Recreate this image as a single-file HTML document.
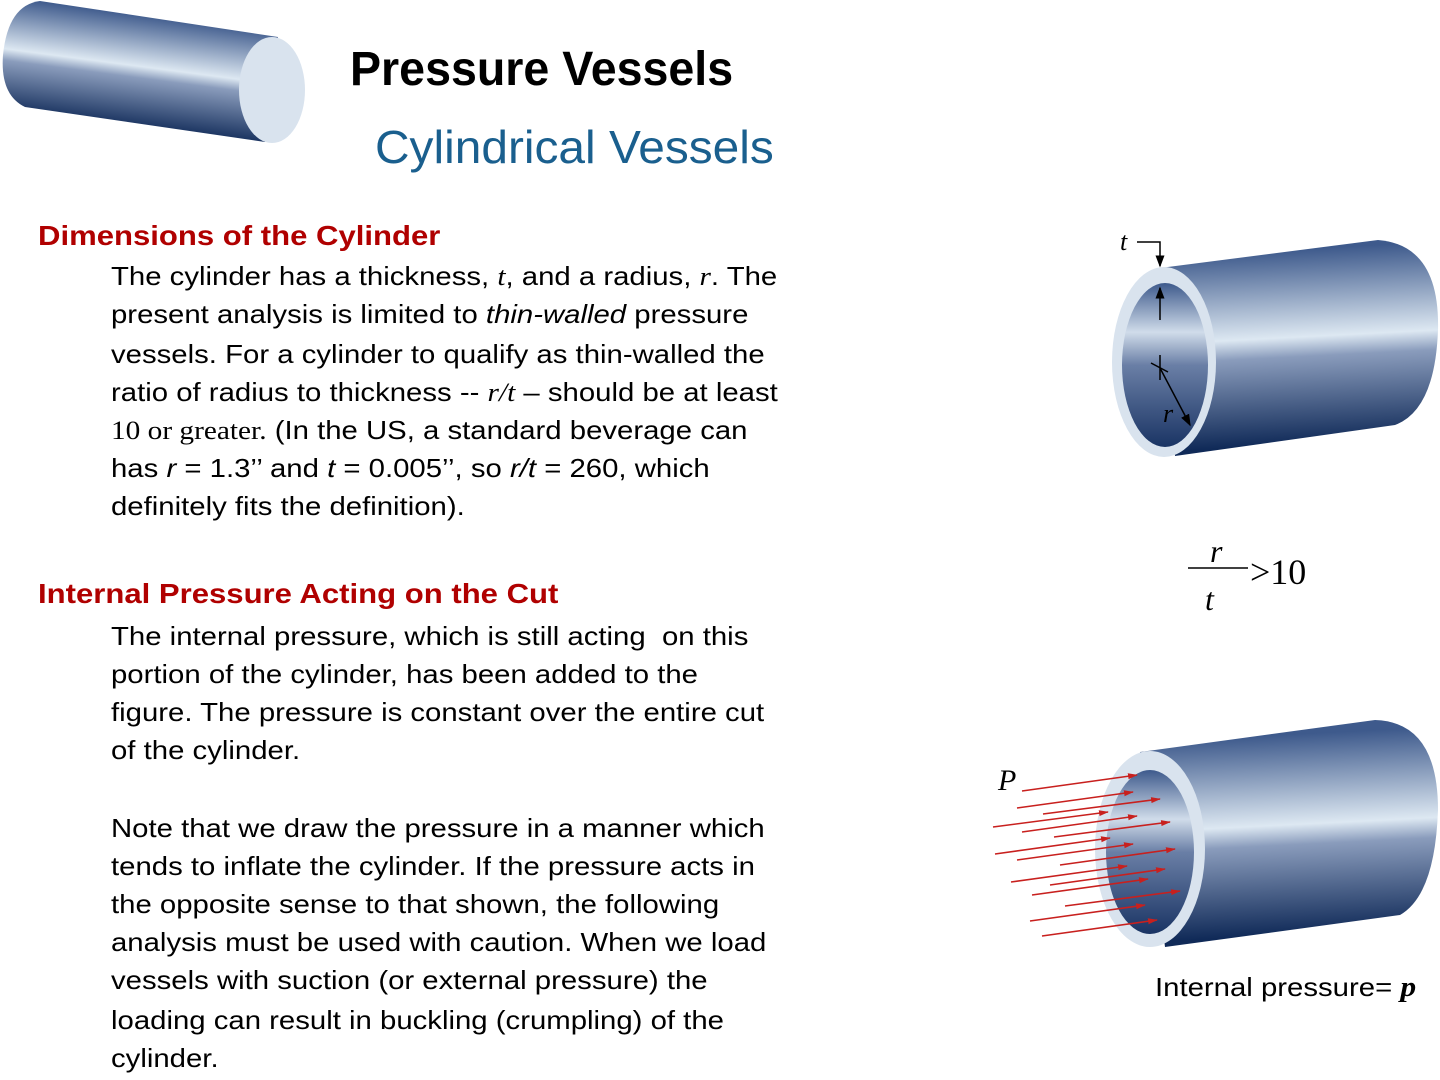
<!DOCTYPE html>
<html><head><meta charset="utf-8"><style>
body{margin:0;width:1440px;height:1080px;background:#fff;position:relative;overflow:hidden;font-family:"Liberation Sans",sans-serif}
.l{position:absolute;left:111px;font-size:26px;white-space:nowrap;transform:scaleX(1.128);transform-origin:left top;color:#000;line-height:30px}
.h{position:absolute;left:38px;font-size:28px;font-weight:bold;color:#b00000;white-space:nowrap;transform:scaleX(1.11);transform-origin:left top}
.s{font-family:"Liberation Serif",serif;font-style:italic}
.sr{font-family:"Liberation Serif",serif}
</style></head><body>
<svg width="1440" height="1080" style="position:absolute;left:0;top:0">
<defs>
<linearGradient id="g1" gradientUnits="userSpaceOnUse" x1="150" y1="15" x2="135" y2="130">
<stop offset="0" stop-color="#3e5a8c"/><stop offset="0.45" stop-color="#dde8f2"/><stop offset="0.55" stop-color="#8a9cbc"/><stop offset="1" stop-color="#102a58"/></linearGradient>
<linearGradient id="g2" gradientUnits="userSpaceOnUse" x1="1280" y1="250" x2="1290" y2="445">
<stop offset="0" stop-color="#3e5a8c"/><stop offset="0.45" stop-color="#dde8f2"/><stop offset="0.55" stop-color="#8a9cbc"/><stop offset="1" stop-color="#102a58"/></linearGradient>
<linearGradient id="g3" gradientUnits="userSpaceOnUse" x1="1280" y1="735" x2="1290" y2="935">
<stop offset="0" stop-color="#3e5a8c"/><stop offset="0.45" stop-color="#dde8f2"/><stop offset="0.55" stop-color="#8a9cbc"/><stop offset="1" stop-color="#102a58"/></linearGradient>
<linearGradient id="gi" x1="0" y1="0" x2="0" y2="1">
<stop offset="0" stop-color="#3e5a8c"/><stop offset="0.3" stop-color="#d0dcea"/><stop offset="0.5" stop-color="#6a7fa6"/><stop offset="1" stop-color="#1a3464"/></linearGradient>
<marker id="ab" markerWidth="8" markerHeight="8" refX="7" refY="4" orient="auto"><path d="M0,1 L8,4 L0,7Z" fill="#000"/></marker>
<marker id="ar" markerWidth="10" markerHeight="8" refX="9" refY="4" orient="auto" markerUnits="userSpaceOnUse"><path d="M0,1 L18,4 L0,7Z" fill="#c8201e" transform="scale(0.55,1)"/></marker>
</defs>
<path d="M40,1 L278,37 L265,142 L25,107 Q0,95 3,55 Q8,5 40,1Z" fill="url(#g1)"/>
<ellipse cx="272" cy="90" rx="33" ry="53" fill="#d9e3ee"/>
<path d="M1160,268 L1378,240 Q1440,245 1438,330 Q1435,410 1395,425 L1175,456Z" fill="url(#g2)"/>
<ellipse cx="1164" cy="362" rx="52" ry="95" fill="#d9e3ee"/>
<ellipse cx="1165" cy="365" rx="43" ry="82" fill="url(#gi)"/>
<path d="M1137,242 L1160,242 L1160,266" fill="none" stroke="#000" stroke-width="1.5" marker-end="url(#ab)"/>
<line x1="1160" y1="320" x2="1160" y2="288" stroke="#000" stroke-width="1.5" marker-end="url(#ab)"/>
<line x1="1160" y1="355" x2="1160" y2="380" stroke="#000" stroke-width="1.5"/>
<line x1="1151" y1="363" x2="1168" y2="372" stroke="#000" stroke-width="1.5"/>
<line x1="1160" y1="368" x2="1190" y2="425" stroke="#000" stroke-width="1.5" marker-end="url(#ab)"/>
<text x="1120" y="250" font-family="Liberation Serif" font-style="italic" font-size="26">t</text>
<text x="1163" y="422" font-family="Liberation Serif" font-style="italic" font-size="26">r</text>
<path d="M1140,752 L1375,720 Q1438,722 1438,810 Q1435,895 1400,915 L1165,947Z" fill="url(#g3)"/>
<ellipse cx="1150" cy="849" rx="55" ry="98" fill="#d9e3ee"/>
<ellipse cx="1150" cy="852" rx="44" ry="82" fill="url(#gi)"/>
<g stroke="#c8201e" stroke-width="1.6" marker-end="url(#ar)">
<line x1="1022" y1="791" x2="1137" y2="775"/>
<line x1="1017" y1="808" x2="1133" y2="792"/>
<line x1="1043" y1="814" x2="1160" y2="799"/>
<line x1="993" y1="827" x2="1108" y2="812"/>
<line x1="1022" y1="832" x2="1137" y2="816"/>
<line x1="1054" y1="837" x2="1170" y2="822"/>
<line x1="995" y1="854" x2="1110" y2="838"/>
<line x1="1017" y1="860" x2="1133" y2="844"/>
<line x1="1060" y1="865" x2="1175" y2="849"/>
<line x1="1011" y1="882" x2="1127" y2="866"/>
<line x1="1050" y1="885" x2="1165" y2="869"/>
<line x1="1032" y1="895" x2="1148" y2="879"/>
<line x1="1065" y1="906" x2="1180" y2="891"/>
<line x1="1030" y1="921" x2="1145" y2="905"/>
<line x1="1042" y1="936" x2="1157" y2="920"/>
</g>
<text x="998" y="790" font-family="Liberation Serif" font-style="italic" font-size="30">P</text>
<line x1="1188" y1="568" x2="1248" y2="568" stroke="#000" stroke-width="1.5"/>
<text x="1210" y="562" font-family="Liberation Serif" font-style="italic" font-size="32">r</text>
<text x="1205" y="610" font-family="Liberation Serif" font-style="italic" font-size="32">t</text>
<text x="1250" y="584" font-family="Liberation Serif" font-size="36">&gt;10</text>
</svg>
<div style="position:absolute;left:350px;top:42px;font-size:48px;font-weight:bold;white-space:nowrap;transform:scaleX(0.97);transform-origin:left top">Pressure Vessels</div>
<div style="position:absolute;left:375px;top:120px;font-size:46px;color:#1a5f8e;white-space:nowrap;transform:scaleX(1.04);transform-origin:left top">Cylindrical Vessels</div>
<div class="h" style="top:220px">Dimensions of the Cylinder</div>
<div class="l" style="top:261px">The cylinder has a thickness, <span class="s">t</span>, and a radius, <span class="s">r</span>. The</div>
<div class="l" style="top:299px">present analysis is limited to <i>thin-walled</i> pressure</div>
<div class="l" style="top:339px">vessels. For a cylinder to qualify as thin-walled the</div>
<div class="l" style="top:377px">ratio of radius to thickness -- <span class="s">r/t</span> – should be at least</div>
<div class="l" style="top:415px"><span class="sr">10 or greater.</span> (In the US, a standard beverage can</div>
<div class="l" style="top:453px">has <i>r</i> = 1.3’’ and <i>t</i> = 0.005’’, so <i>r/t</i> = 260, which</div>
<div class="l" style="top:491px">definitely fits the definition).</div>
<div class="h" style="top:578px">Internal Pressure Acting on the Cut</div>
<div class="l" style="top:621px">The internal pressure, which is still acting&nbsp; on this</div>
<div class="l" style="top:659px">portion of the cylinder, has been added to the</div>
<div class="l" style="top:697px">figure. The pressure is constant over the entire cut</div>
<div class="l" style="top:735px">of the cylinder.</div>
<div class="l" style="top:813px">Note that we draw the pressure in a manner which</div>
<div class="l" style="top:851px">tends to inflate the cylinder. If the pressure acts in</div>
<div class="l" style="top:889px">the opposite sense to that shown, the following</div>
<div class="l" style="top:927px">analysis must be used with caution. When we load</div>
<div class="l" style="top:965px">vessels with suction (or external pressure) the</div>
<div class="l" style="top:1005px">loading can result in buckling (crumpling) of the</div>
<div class="l" style="top:1043px">cylinder.</div>
<div class="l" style="left:1155px;top:972px">Internal pressure= <b class="s" style="font-size:28px">p</b></div>
</body></html>
